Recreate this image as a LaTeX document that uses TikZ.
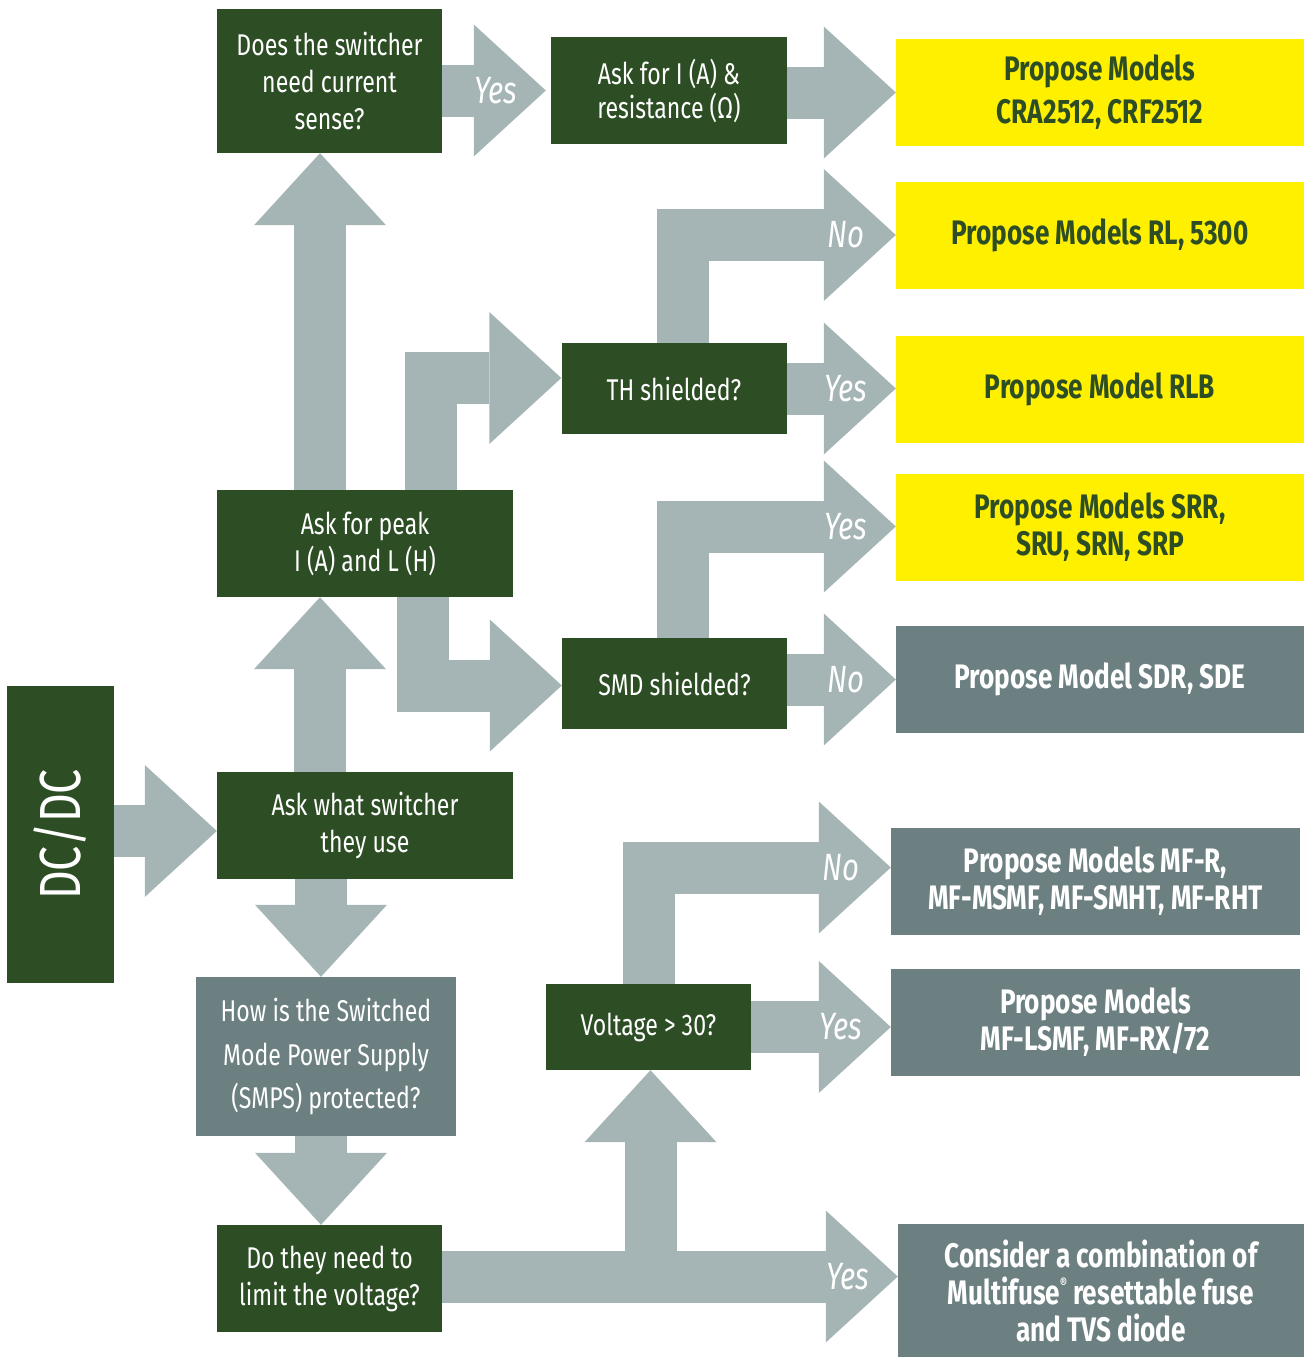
\documentclass[tikz,border=0pt]{standalone}
\usepackage{fontspec}
\setmainfont{Fira Sans}[FakeStretch=0.77]
\usetikzlibrary{arrows.meta,calc}
\definecolor{darkgreen}{RGB}{45,78,36}
\definecolor{arrowgrey}{RGB}{165,180,180}
\definecolor{boxgrey}{RGB}{108,128,130}
\definecolor{modelyellow}{RGB}{255,240,0}
\tikzstyle{question}=[fill=darkgreen,text=white,align=center,inner sep=0pt,font=\fontsize{30}{37}\selectfont]
\tikzstyle{greyquestion}=[question,fill=boxgrey]
\tikzstyle{yellowmodel}=[fill=modelyellow,text=darkgreen,align=center,inner sep=0pt,minimum width=408pt,minimum height=107pt,font=\bfseries\fontsize{34}{37}\selectfont]
\tikzstyle{greymodel}=[yellowmodel,fill=boxgrey,text=white]
\tikzstyle{fatarrow}=[draw=arrowgrey,line width=52pt,line join=miter,-{Triangle[length=72pt,width=132pt,line width=0pt]}]
\tikzstyle{answer}=[text=white,inner sep=0pt,font=\itshape\fontsize{38}{38}\selectfont,xshift=-50pt]
\newcommand{\regmark}{\raisebox{0.85ex}{\fontsize{14}{14}\selectfont ®}}

\begin{document}
\begin{tikzpicture}[x=1pt,y=-1pt]
	\useasboundingbox (0,0) rectangle (1304,1357);
	% questions
	\node[question, minimum width=107pt, minimum height=297pt] (dc) at (60.5,834.5) {\rotatebox{90}{\fontsize{58}{58}\selectfont DC/DC}};
	\node[question, minimum width=225pt, minimum height=144pt] (sense) at (329.5,81) {Does the switcher\\need current\\sense?};
	\node[question, minimum width=236pt, minimum height=107pt, font=\fontsize{30}{34}\selectfont] (askI) at (669,90.5) {Ask for I (A) \&\\resistance (Ω)};
	\node[question, minimum width=296pt, minimum height=107pt] (peak) at (365,543.5) {Ask for peak\\I (A) and L (H)};
	\node[question, minimum width=225pt, minimum height=91pt] (th) at (674,388.5) {TH shielded?};
	\node[question, minimum width=225pt, minimum height=91pt] (smd) at (674.5,683.5) {SMD shielded?};
	\node[question, minimum width=296pt, minimum height=107pt] (sw) at (365,825.5) {Ask what switcher\\they use};
	\node[greyquestion, minimum width=260pt, minimum height=159pt, font=\fontsize{30}{43.5}\selectfont] (smps) at (326,1056.5) {How is the Switched\\Mode Power Supply\\(SMPS) protected?};
	\node[question, minimum width=205pt, minimum height=86pt] (volt) at (648.5,1027) {Voltage > 30?};
	\node[question, minimum width=225pt, minimum height=107pt] (limit) at (329.5,1278.5) {Do they need to\\limit the voltage?};
	% models
	\node[yellowmodel, font=\bfseries\fontsize{34}{43}\selectfont] (cra) at (1100,92.5) {Propose Models\\CRA2512, CRF2512};
	\node[yellowmodel] (rl) at (1100,235) {Propose Models RL, 5300};
	\node[yellowmodel] (rlb) at (1100,389.5) {Propose Model RLB};
	\node[yellowmodel] (srr) at (1100,527.5) {Propose Models SRR,\\SRU, SRN, SRP};
	\node[greymodel] (sdr) at (1100,679.5) {Propose Model SDR, SDE};
	\node[greymodel, minimum width=409pt] (mfr) at (1095.5,881.5) {Propose Models MF-R,\\MF-MSMF, MF-SMHT, MF-RHT};
	\node[greymodel, minimum width=409pt] (mfl) at (1095.5,1022.5) {Propose Models\\MF-LSMF, MF-RX/72};
	\node[greymodel, minimum width=406pt, minimum height=133pt] (tvs) at (1101,1290.5) {Consider a combination of\\Multifuse\regmark{} resettable fuse\\and TVS diode};
	% arrows
	\draw[fatarrow] ($(dc.east)+(0,-3.5)$) -- ($(sw.west)+(0,5.5)$);
	\draw[fatarrow] ($(sw.south)+(-44,0)$) -- ($(smps.north)+(-5,0)$);
	\draw[fatarrow] ($(sw.north)+(-45,0)$) -- ($(peak.south)+(-45,0)$);
	\draw[fatarrow] ($(peak.north)+(-45,0)$) -- ($(sense.south)+(-9.5,0)$);
	\draw[fatarrow] ($(sense.east)+(0,9.5)$) -- ($(askI.west)+(-5,0)$) node[answer, pos=1] (yes1) {Yes};
	\draw[fatarrow] (askI.east |- cra.west) -- (cra.west);
	\draw[fatarrow] ($(peak.north)+(65.5,0)$) |- ($(th.west)+(0,-10.5)$);
	\draw[fatarrow] ($(peak.south)+(58,0)$) |- ($(smd.west)+(0,2)$);
	\draw[fatarrow] (th.east) -- (th.east -| rlb.west) node[answer, pos=1] (yes2) {Yes};
	\draw[fatarrow] ($(th.north)+(9,0)$) |- (rl.west) node[answer, pos=1] (no1) {No};
	\draw[fatarrow] ($(smd.north)+(8.5,0)$) |- ($(srr.west)+(0,-1)$) node[answer, pos=1] (yes3) {Yes};
	\draw[fatarrow] (smd.east |- sdr.west) -- (sdr.west) node[answer, pos=1] (no2) {No};
	\draw[fatarrow] ($(smps.south)+(-5,0)$) -- ($(limit.north)+(-8.5,0)$);
	\draw[fatarrow] ($(limit.east)+(0,-2)$) -- ($(limit.east -| tvs.west)+(0,-2)$) node[answer, pos=1] (yes4) {Yes};
	\draw[fatarrow] ($(limit.east -| volt.south)+(2,-2)$) -- ($(volt.south)+(2,0)$);
	\draw[fatarrow] (volt.east) -- (volt.east -| mfl.west) node[answer, pos=1] (yes5) {Yes};
	\draw[fatarrow] (volt.north) |- ($(mfr.west)+(0,-14)$) node[answer, pos=1] (no3) {No};
\end{tikzpicture}
\end{document}
